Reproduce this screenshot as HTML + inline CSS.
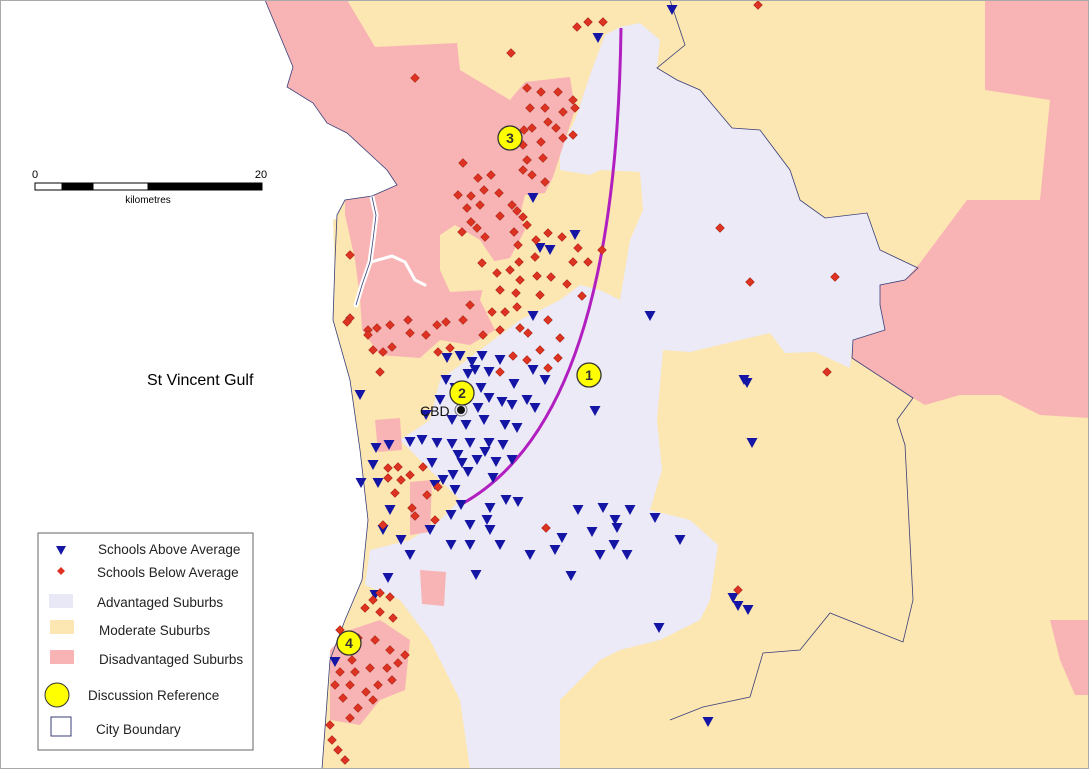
<!DOCTYPE html>
<html><head><meta charset="utf-8"><style>
html,body{margin:0;padding:0;background:#fff}
svg{display:block}
text{font-family:"Liberation Sans",sans-serif}
</style></head><body>
<svg id="m" width="1089" height="769" viewBox="0 0 1089 769" xmlns="http://www.w3.org/2000/svg">
<rect width="1089" height="769" fill="#fff"/>
<polygon fill="#fce6b2" points="265,0 1089,0 1089,769 322,769 330,660 345,620 362,580 368,520 360,450 350,380 333,320 335,260 337,215 345,200 372,196 397,185 387,170 347,133 327,123 313,103 287,87 293,67"/>
<polygon fill="#ebeaf6" points="590,75 605,35 620,27 640,23 660,40 657,68 677,80 700,90 732,128 760,130 790,170 800,200 825,218 867,213 880,250 918,268 905,280 880,285 880,305 885,330 853,340 850,368 815,352 785,353 770,333 690,352 663,350 657,420 662,470 650,510 690,520 718,545 710,600 700,620 660,640 620,650 600,660 560,700 560,769 470,769 460,700 430,640 400,600 365,585 370,550 410,540 440,520 460,500 420,460 400,440 430,420 440,380 480,350 520,320 560,300 580,285 600,290 620,300 630,240 643,210 640,172 600,170 590,175 560,170 560,150 575,120"/>
<g fill="#f8b4b4">
<polygon points="265,0 347,0 375,47 457,43 460,70 510,100 525,82 570,77 575,110 565,140 553,177 545,193 525,195 520,215 525,230 510,258 490,262 480,300 495,330 470,345 440,340 420,358 380,355 362,330 360,300 355,260 345,215 345,200 372,196 397,185 387,170 347,133 327,123 313,103 287,87 293,67"/>
<polygon points="985,0 1089,0 1089,418 1040,415 1000,395 960,395 925,405 913,398 852,358 853,340 885,330 880,305 880,285 905,280 920,263 967,200 1040,200 1050,100 985,90"/>
<polygon points="330,650 350,630 380,620 410,640 405,690 380,700 360,725 330,720"/>
<polygon points="1050,620 1089,620 1089,695 1075,695 1060,660"/>
<polygon points="375,420 400,418 402,450 378,452"/>
<polygon points="410,482 432,480 430,532 410,535"/>
<polygon points="420,570 446,572 444,606 422,604"/>
</g>
<polygon fill="#fce6b2" points="440,235 455,225 480,240 495,262 485,290 450,292 440,270"/>
<polygon fill="#fce6b2" points="333,220 345,215 355,260 360,300 362,330 352,380 345,330 335,280"/>
<!-- port river -->
<g stroke="#fff" fill="none" stroke-linecap="round">
<path d="M372,197 L376,215 L373,240 L370,262 L362,285 L356,305" stroke-width="5"/>
<path d="M371,262 L392,256 L405,262 L415,280 L425,285" stroke-width="3"/>
</g>
<g stroke="#3a3f7a" stroke-width="0.8" fill="none">
<polyline points="265,0 293,67 287,87 313,103 327,123 347,133 387,170 397,185 372,196 345,200 337,215 335,260 333,320 350,380 360,450 368,520 362,580 345,620 330,660 322,769"/>
<polyline points="670,0 685,45 657,68 677,80 700,90 732,128 760,130 790,170 800,200 825,218 867,213 880,250 918,268 905,280 880,285 880,305 885,330 853,340 852,358 913,398 897,420 905,445 913,600 903,642 830,613 800,650 763,653 750,697 703,707 670,720"/>
<polyline points="372,197 376,215 373,240 370,262 362,285 356,305"/>
</g>
<path d="M621,28 C618,250 580,440 460,505" stroke="#b21fc0" stroke-width="3" fill="none"/>
<g id="tri" fill="#1515a5"></g>
<g id="dia" fill="#dd3322" stroke="#8a1a10" stroke-width="0.5"></g>
<circle cx="461" cy="410" r="6" fill="none" stroke="#777" stroke-width="1"/>
<circle cx="461" cy="410" r="4" fill="#111"/>
<text x="420" y="416" font-size="14" fill="#111">CBD</text>
<g fill="#ffff00" stroke="#333" stroke-width="1.3">
<circle cx="589" cy="375" r="12"/><circle cx="462" cy="393" r="12"/><circle cx="510" cy="138" r="12"/><circle cx="349" cy="643" r="12"/>
</g>
<g font-size="14" font-weight="bold" text-anchor="middle" fill="#333">
<text x="589" y="380">1</text><text x="462" y="398">2</text><text x="510" y="143">3</text><text x="349" y="648">4</text>
</g>
<g stroke="#000" stroke-width="1">
<rect x="35" y="183" width="27" height="7" fill="#fff"/>
<rect x="62" y="183" width="31" height="7" fill="#000"/>
<rect x="93" y="183" width="55" height="7" fill="#fff"/>
<rect x="148" y="183" width="114" height="7" fill="#000"/>
</g>
<text x="35" y="178" font-size="11" text-anchor="middle">0</text>
<text x="261" y="178" font-size="11" text-anchor="middle">20</text>
<text x="148" y="203" font-size="10" text-anchor="middle">kilometres</text>
<text x="147" y="385" font-size="16">St Vincent Gulf</text>
<rect x="38" y="533" width="215" height="217" fill="#fff" stroke="#666" stroke-width="1"/>
<polygon points="56,546 66,546 61,555" fill="#1515a5"/>
<polygon points="61,567 65,571 61,575 57,571" fill="#dd3322"/>
<rect x="49" y="594" width="24" height="14" fill="#e8e8f6"/>
<rect x="50" y="620" width="24" height="14" fill="#fce6b2"/>
<rect x="50" y="650" width="24" height="14" fill="#f8b4b4"/>
<circle cx="57" cy="695" r="12" fill="#ffff00" stroke="#333" stroke-width="1"/>
<rect x="51" y="717" width="20" height="19" fill="#fff" stroke="#3a3f7a" stroke-width="1"/>
<g font-size="13.5" fill="#222">
<text x="98" y="554">Schools Above Average</text>
<text x="97" y="577">Schools Below Average</text>
<text x="97" y="607">Advantaged Suburbs</text>
<text x="99" y="635">Moderate Suburbs</text>
<text x="99" y="664">Disadvantaged Suburbs</text>
<text x="88" y="700">Discussion Reference</text>
<text x="96" y="734">City Boundary</text>
</g>
<rect x="0.5" y="0.5" width="1088" height="768" fill="none" stroke="#aaa"/>
</svg>
<script>
var D=[577,27,588,22,603,22,511,53,415,78,758,5,527,88,541,92,558,92,573,100,575,108,563,112,530,108,545,108,548,122,556,128,563,138,573,135,524,130,532,128,541,142,523,145,543,158,527,160,523,170,532,175,545,182,463,163,478,178,491,175,458,195,471,196,484,190,499,193,467,208,480,205,512,205,517,211,500,216,471,222,477,228,462,232,485,237,523,217,527,225,514,232,536,240,518,245,548,233,562,237,578,248,573,262,588,262,602,250,535,257,519,262,510,270,497,273,482,263,520,280,537,276,551,277,567,284,582,296,540,295,516,293,500,290,350,255,350,318,347,322,368,330,377,328,390,325,408,320,373,350,383,352,392,347,368,335,410,333,426,335,437,325,446,322,470,305,463,320,492,312,505,312,517,307,520,328,528,333,500,330,483,335,548,320,560,338,438,352,450,348,558,358,513,356,527,360,540,350,548,368,500,372,380,372,720,228,750,282,835,277,827,372,546,528,738,590,388,468,398,467,410,475,423,467,412,508,427,495,435,520,438,487,401,480,388,478,395,493,383,525,415,516,380,593,390,597,373,600,365,608,380,612,393,618,340,630,358,638,375,640,390,650,405,655,352,660,340,672,355,672,370,668,387,668,398,663,335,685,350,685,366,692,378,685,392,680,343,698,358,708,373,700,350,718,330,725,332,740,338,750,345,760];
var T=[598,38,672,10,533,198,575,235,550,250,540,248,533,316,650,316,447,358,460,356,472,362,482,356,475,370,468,374,455,388,489,372,500,360,514,384,533,370,545,380,360,395,440,400,446,380,481,388,489,398,478,408,502,402,512,405,527,400,535,408,595,411,744,380,747,383,426,415,452,420,466,425,484,420,505,425,517,428,437,443,452,444,470,443,489,443,503,445,485,452,458,455,422,440,410,442,389,445,376,448,432,463,462,463,477,460,496,462,512,460,453,475,468,472,493,478,435,485,455,490,443,480,461,505,490,508,506,500,518,502,378,483,361,483,373,465,390,510,383,530,401,540,451,545,470,545,500,545,487,520,490,530,470,525,451,515,430,530,410,555,578,510,603,508,630,510,615,520,592,532,562,538,614,545,627,555,655,518,680,540,600,555,617,528,555,550,476,575,530,555,571,576,388,578,375,595,752,443,733,598,738,606,748,610,659,628,335,662,708,722];
var ns="http://www.w3.org/2000/svg",g=document.getElementById("dia"),t=document.getElementById("tri");
for(var i=0;i<D.length;i+=2){var p=document.createElementNS(ns,"polygon");var x=D[i],y=D[i+1];p.setAttribute("points",x+","+(y-4.5)+" "+(x+4.5)+","+y+" "+x+","+(y+4.5)+" "+(x-4.5)+","+y);g.appendChild(p);}
for(var i=0;i<T.length;i+=2){var p=document.createElementNS(ns,"polygon");var x=T[i],y=T[i+1];p.setAttribute("points",(x-5.5)+","+(y-5)+" "+(x+5.5)+","+(y-5)+" "+x+","+(y+5));t.appendChild(p);}
</script>
</body></html>
